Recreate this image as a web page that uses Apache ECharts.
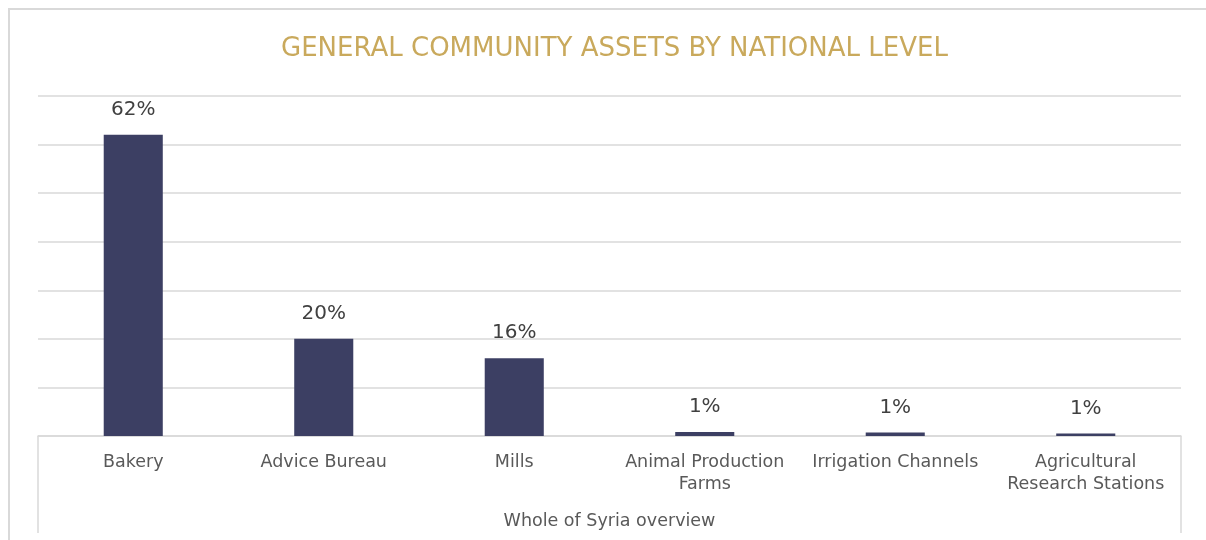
<!DOCTYPE html>
<html>
<head>
<meta charset="utf-8">
<script src="https://cdn.jsdelivr.net/npm/echarts@6/dist/echarts.min.js"></script>
<style>
  html, body { margin: 0; padding: 0; background: #ffffff; }
  #chart { width: 1206px; height: 540px; }
</style>
</head>
<body>
<div id="chart"></div>
<script>
// Share of general community assets, whole of Syria (percent)
const categories = [
  'Bakery',
  'Advice Bureau',
  'Mills',
  'Animal Production\nFarms',
  'Irrigation Channels',
  'Agricultural\nResearch Stations'
];
const shares = [62, 20, 16, 0.8, 0.7, 0.5];
const groupLabel = ['Whole of Syria overview'];
const titleText = 'GENERAL COMMUNITY ASSETS BY NATIONAL LEVEL';

const FONT = '"DejaVu Sans", sans-serif';
const GRID = '#d9d9d9';

const chart = echarts.init(document.getElementById('chart'), null, { renderer: 'canvas' });

chart.setOption({
  backgroundColor: '#ffffff',
  animation: false,
  title: {
    text: titleText,
    left: 276,
    top: 31,
    textStyle: { color: '#C9A95C', fontFamily: FONT, fontSize: 26, fontWeight: 'normal' }
  },
  graphic: [{
    type: 'rect',
    shape: { x: 9, y: 9, width: 1240, height: 580 },
    style: { fill: 'none', stroke: GRID, lineWidth: 2 },
    silent: true
  }],
  grid: { left: 38, right: 25, top: 96, bottom: 104, containLabel: false },
  xAxis: [{
    type: 'category',
    data: categories,
    axisLine: { lineStyle: { color: GRID, width: 1.5 } },
    axisTick: { show: false },
    axisLabel: {
      color: '#595959', fontFamily: FONT, fontSize: 17.5, margin: 15,
      lineHeight: 22, interval: 0
    }
  }, {
    type: 'category',
    data: groupLabel,
    position: 'bottom',
    axisLine: { show: false },
    axisTick: { show: true, length: 97, lineStyle: { color: GRID, width: 1.5 } },
    axisLabel: { color: '#595959', fontFamily: FONT, fontSize: 17.5, margin: 76 }
  }],
  yAxis: {
    type: 'value',
    min: 0,
    max: 70,
    interval: 10,
    axisLine: { show: false },
    axisTick: { show: false },
    axisLabel: { show: false },
    splitLine: { lineStyle: { color: GRID, width: 1.5 } }
  },
  series: [{
    type: 'bar',
    xAxisIndex: 0,
    data: shares,
    barWidth: '31%',
    itemStyle: { color: '#3C3F63' },
    label: {
      show: true,
      position: 'top',
      distance: 15,
      color: '#404040',
      fontFamily: FONT,
      fontSize: 20,
      formatter: p => Math.round(p.value) + '%'
    }
  }]
});
</script>
</body>
</html>
